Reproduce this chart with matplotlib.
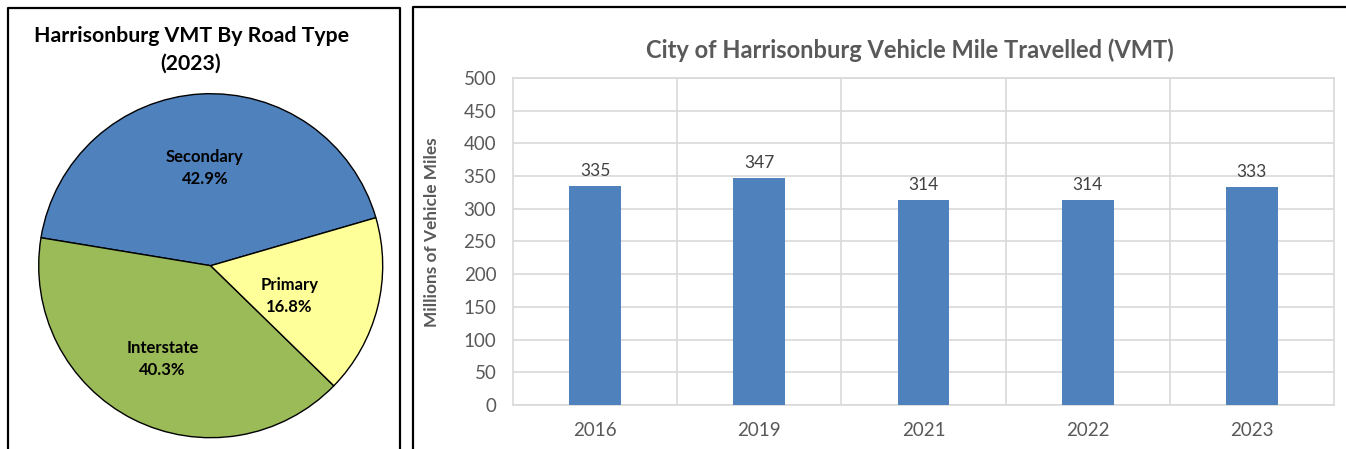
import numpy as np
import matplotlib
matplotlib.use('Agg')
import matplotlib.pyplot as plt
from matplotlib.lines import Line2D

# pie data (2023 share by road type)
road_types = ['Secondary', 'Interstate', 'Primary']
road_share = [42.9, 40.3, 16.8]
road_colors = ['#4f81bd', '#9bbb59', '#ffff99']

# bar data (millions of vehicle miles)
years = ['2016', '2019', '2021', '2022', '2023']
vmt = [335, 347, 314, 314, 333]

W, H = 1346, 449
plt.rcParams['font.family'] = ['Lato', 'DejaVu Sans']

fig = plt.figure(figsize=(W / 100, H / 100), dpi=100)
fig.patch.set_facecolor('white')


def px_box(x0, y0, x1, y1):
    # pixel box (top-left origin) -> figure fraction rect
    return [x0 / W, 1 - y1 / H, (x1 - x0) / W, (y1 - y0) / H]


def border(points, lw=1.6):
    xs = [p[0] / W for p in points]
    ys = [1 - p[1] / H for p in points]
    fig.add_artist(Line2D(xs, ys, transform=fig.transFigure, color='black', lw=lw))


# panel frames
border([(8, H + 2), (8, 8), (400, 8), (400, H + 2)])
border([(413, H + 2), (413, 7), (W + 2, 7)])

# ---- pie ----
cx, cy, r = 210.7, 265.7, 172
ax1 = fig.add_axes(px_box(cx - r, cy - r, cx + r, cy + r))
wedges, _ = ax1.pie(road_share, colors=road_colors, startangle=16.2, counterclock=True,
                    wedgeprops=dict(edgecolor='black', linewidth=1.0))
ax1.set_xlim(-1, 1)
ax1.set_ylim(-1, 1)
ax1.set_aspect('equal')

# label radius and angle nudge (deg) per slice
label_r = [0.57, 0.61, 0.49]
label_turn = [0, -0.5, -7]
for w, name, pct, lr, dt in zip(wedges, road_types, road_share, label_r, label_turn):
    mid = np.deg2rad((w.theta1 + w.theta2) / 2 + dt)
    ax1.text(lr * np.cos(mid), lr * np.sin(mid), '%s\n%.1f%%' % (name, pct),
             ha='center', va='center', fontsize=12, fontweight='bold',
             color='black', linespacing=1.45)

fig.text(191 / W, 1 - 50 / H, 'Harrisonburg VMT By Road Type\n(2023)',
         ha='center', va='center', fontsize=15.3, fontweight='bold',
         color='black', linespacing=1.45)

# ---- bars ----
gray = '#595959'
grid = '#d9d9d9'
ax2 = fig.add_axes(px_box(513, 78, 1334, 405))
x = np.arange(len(years))
bars = ax2.bar(x, vmt, width=0.315, color='#4f81bd', zorder=3)
ax2.bar_label(bars, labels=[str(v) for v in vmt], padding=5, fontsize=12.5, color='#404040')

ax2.set_xlim(-0.5, len(years) - 0.5)
ax2.set_ylim(0, 500)
ax2.set_yticks(np.arange(0, 501, 50))
ax2.set_xticks(x)
ax2.set_xticklabels(years)
ax2.set_xticks(np.arange(0.5, len(years) - 1, 1), minor=True)
ax2.grid(axis='y', which='major', color=grid, lw=1.2, zorder=0)
ax2.grid(axis='x', which='minor', color=grid, lw=1.2, zorder=0)
ax2.tick_params(axis='both', which='both', length=0, labelsize=13.5, labelcolor=gray)
ax2.tick_params(axis='y', pad=12)
ax2.tick_params(axis='x', pad=12)
for s in ax2.spines.values():
    s.set_color(grid)
    s.set_linewidth(1.2)

ax2.set_ylabel('Millions of Vehicle Miles', fontsize=12.4, fontweight='bold', color=gray)
ax2.yaxis.set_label_coords(-0.089, 0.53)

fig.text(910 / W, 1 - 50 / H, 'City of Harrisonburg Vehicle Mile Travelled (VMT)',
         ha='center', va='center', fontsize=17, fontweight='bold', color=gray)

fig.savefig('out.png', dpi=100)
